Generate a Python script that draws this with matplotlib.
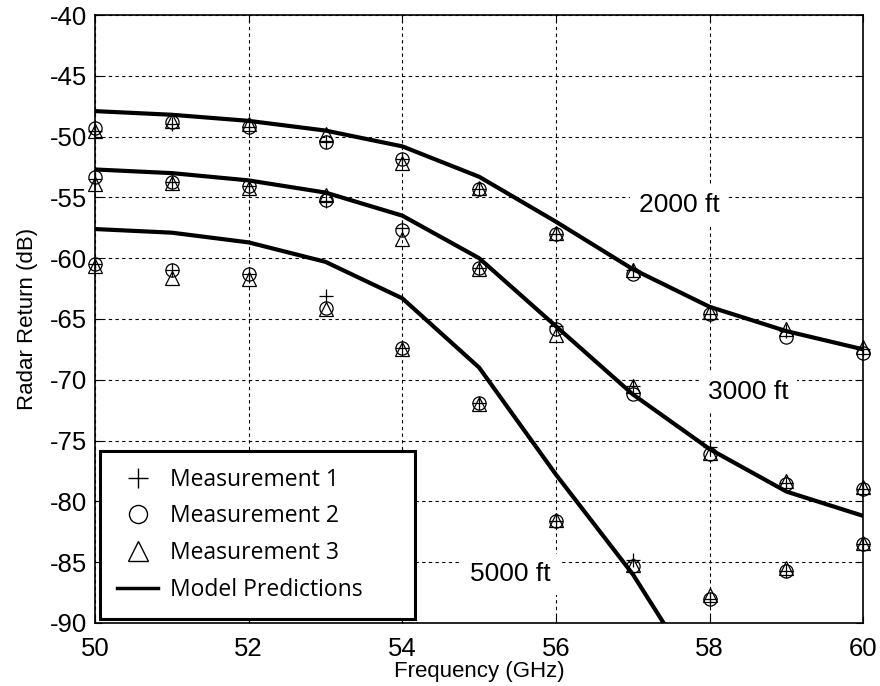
import matplotlib
matplotlib.use('Agg')
import matplotlib.pyplot as plt
from matplotlib.lines import Line2D

freq = [50, 51, 52, 53, 54, 55, 56, 57, 58, 59, 60]

# model predictions (dB)
model_2000 = [-47.9, -48.2, -48.7, -49.5, -50.8, -53.3, -57.0, -60.9, -64.0, -66.0, -67.5]
model_3000 = [-52.7, -53.0, -53.6, -54.6, -56.5, -60.0, -65.6, -71.2, -75.7, -79.2, -81.2]
model_5000 = [-57.6, -57.9, -58.7, -60.3, -63.3, -69.0, -77.8, -86.0, -96.0]
model_5000_freq = freq[:9]

# measurements, 2000 ft
m1_2000 = [-49.5, -49.0, -49.2, -50.4, -51.8, -54.3, -58.0, -61.0, -64.6, -66.0, -67.5]
m2_2000 = [-49.3, -48.8, -49.2, -50.4, -51.8, -54.3, -58.0, -61.3, -64.6, -66.5, -67.8]
m3_2000 = [-49.5, -48.7, -49.0, -49.8, -52.2, -54.2, -57.9, -61.0, -64.4, -65.8, -67.3]
# measurements, 3000 ft
m1_3000 = [-53.5, -53.7, -54.1, -55.3, -57.5, -60.8, -65.6, -70.5, -75.5, -78.5, -79.0]
m2_3000 = [-53.3, -53.7, -54.1, -55.2, -57.7, -60.8, -65.8, -71.2, -76.1, -78.6, -79.0]
m3_3000 = [-53.9, -53.8, -54.2, -54.8, -58.4, -60.9, -66.3, -70.5, -76.0, -78.3, -78.8]
# measurements, 5000 ft
m1_5000 = [-60.5, -61.0, -61.3, -63.1, -67.4, -71.9, -81.6, -84.8, -88.0, -85.7, -83.5]
m2_5000 = [-60.5, -61.0, -61.3, -64.1, -67.4, -71.9, -81.6, -85.3, -88.0, -85.7, -83.5]
m3_5000 = [-60.6, -61.6, -61.7, -64.2, -67.5, -72.0, -81.5, -85.2, -87.7, -85.5, -83.4]

alt_labels = ['2000 ft', '3000 ft', '5000 ft']
alt_label_pos = [(57.6, -55.6), (58.5, -71.0), (55.4, -86.0)]

plt.rcParams['font.family'] = ['Liberation Sans', 'DejaVu Sans']
plt.rcParams['axes.unicode_minus'] = False

fig = plt.figure(figsize=(8.8, 6.86), dpi=100)
ax = fig.add_axes([0.108, 0.092, 0.873, 0.886])

ax.plot(freq, model_2000, color='black', lw=3, zorder=3)
ax.plot(freq, model_3000, color='black', lw=3, zorder=3)
ax.plot(model_5000_freq, model_5000, color='black', lw=3, zorder=3)

ms = 9.5
for m1, m2, m3 in [(m1_2000, m2_2000, m3_2000), (m1_3000, m2_3000, m3_3000),
                   (m1_5000, m2_5000, m3_5000)]:
    ax.plot(freq, m1, '+', color='black', ms=ms + 1, mew=0.9, zorder=4, clip_on=False)
    ax.plot(freq, m2, 'o', mfc='none', mec='black', ms=ms, mew=0.9, zorder=4, clip_on=False)
    ax.plot(freq, m3, '^', mfc='none', mec='black', ms=ms, mew=0.9, zorder=4, clip_on=False)

for lab, (x, y) in zip(alt_labels, alt_label_pos):
    ax.text(x, y, lab, fontsize=19, ha='center', va='center',
            bbox=dict(facecolor='white', edgecolor='none', pad=6), zorder=2)

ax.set_xlim(50, 60)
ax.set_ylim(-90, -40)
ax.set_xticks(range(50, 61, 2))
ax.set_yticks(range(-90, -39, 5))
ax.tick_params(direction='in', labelsize=18.5, top=True, right=True, length=5)
ax.tick_params(axis='x', pad=10)
ax.tick_params(axis='y', pad=6)
ax.grid(True, color='black', linestyle=(0, (3, 3)), lw=0.8)
for s in ax.spines.values():
    s.set_linewidth(1.2)

ax.set_xlabel('Frequency (GHz)', fontsize=16, labelpad=0)
ax.set_ylabel('Radar Return (dB)', fontsize=16, labelpad=8)

handles = [
    Line2D([], [], ls='none', marker='+', color='black', ms=15, mew=1.0),
    Line2D([], [], ls='none', marker='o', mfc='none', mec='black', ms=13, mew=1.0),
    Line2D([], [], ls='none', marker='^', mfc='none', mec='black', ms=14, mew=1.0),
    Line2D([], [], color='black', lw=2.5),
]
leg = ax.legend(handles, ['Measurement 1', 'Measurement 2', 'Measurement 3', 'Model Predictions'],
                loc='lower left', bbox_to_anchor=(0.0065, 0.0066, 0.41, 0.29), mode='expand',
                fancybox=False, framealpha=1, edgecolor='black',
                prop={'family': 'Open Sans', 'size': 16.5}, handlelength=1.8,
                handletextpad=0.5, borderaxespad=0, labelspacing=0.55, borderpad=0.75)
leg.get_frame().set_linewidth(2.2)
leg.set_zorder(10)

fig.savefig('out.png', dpi=100)
